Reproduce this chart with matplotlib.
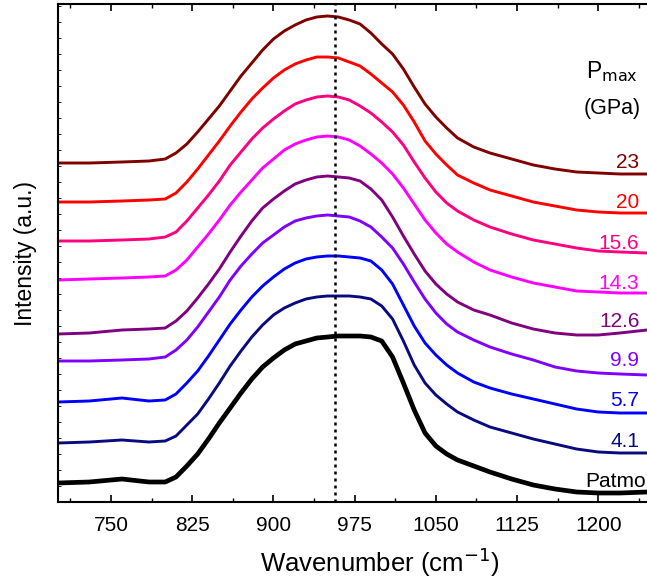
import numpy as np
import matplotlib
matplotlib.use('Agg')
import matplotlib.pyplot as plt
from matplotlib.ticker import MultipleLocator

plt.rcParams['font.family'] = ['Liberation Sans', 'DejaVu Sans']

# wavenumber grid (cm-1)
wn = [701, 730, 760, 785, 800, 810, 820, 830, 840, 850, 860, 870, 880, 890,
      900, 910, 920, 930, 940, 950, 960, 970, 980, 990, 1000, 1010, 1020,
      1030, 1040, 1050, 1060, 1070, 1085, 1100, 1120, 1140, 1160, 1180,
      1200, 1220, 1245]

# stacked spectra (a.u., vertical offset already included)
s_patmo = [19, 20, 23, 20, 20, 25, 36, 48, 63, 79, 94, 109, 123, 135,
           144, 152, 158, 161, 164, 165, 166, 166, 166, 165, 161, 145, 119,
           92, 69, 56, 48, 42, 36, 30, 23, 17, 13, 10,
           9, 9, 10]
s_41 = [59, 60, 62, 60, 61, 66, 77, 88, 103, 119, 136, 151, 165, 177,
        187, 194, 199, 203, 205, 206, 206, 206, 205, 203, 196, 183, 161,
        137, 119, 107, 98, 90, 82, 75, 69, 63, 58, 53,
        50, 49, 49]
s_57 = [100, 101, 104, 101, 102, 108, 119, 131, 146, 162, 178, 192, 205, 216,
        225, 233, 239, 243, 245, 246, 246, 245, 244, 241, 232, 218, 197,
        176, 159, 147, 137, 129, 120, 114, 108, 103, 98, 93,
        90, 89, 89]
s_99 = [141, 141, 142, 143, 145, 152, 162, 175, 190, 205, 222, 236, 248, 259,
        267, 275, 281, 284, 286, 287, 286, 285, 281, 275, 265, 254, 238,
        220, 203, 189, 178, 170, 162, 155, 148, 142, 135, 131,
        129, 128, 127]
s_126 = [168, 169, 172, 173, 174, 181, 191, 204, 218, 233, 250, 266, 281, 294,
         303, 311, 318, 322, 325, 326, 325, 324, 321, 313, 302, 285, 266,
         248, 231, 218, 208, 200, 192, 187, 179, 173, 169, 167,
         167, 169, 172]
s_143 = [222, 223, 224, 225, 226, 232, 242, 255, 268, 282, 297, 310, 322, 334,
         343, 352, 358, 362, 365, 366, 365, 362, 356, 348, 339, 328, 314,
         298, 282, 269, 258, 250, 240, 232, 225, 219, 215, 211,
         210, 209, 209]
s_156 = [261, 261, 262, 263, 265, 270, 281, 294, 307, 321, 337, 350, 363, 374,
         383, 391, 398, 402, 405, 406, 405, 402, 396, 389, 380, 370, 357,
         340, 324, 310, 299, 291, 282, 275, 268, 262, 258, 254,
         251, 250, 249]
s_20 = [300, 300, 301, 302, 303, 309, 320, 333, 347, 361, 376, 390, 403, 414,
        424, 432, 438, 442, 445, 445, 444, 440, 436, 428, 419, 410, 397,
        380, 361, 348, 337, 327, 319, 312, 306, 300, 296, 292,
        290, 289, 289]
s_23 = [339, 339, 340, 341, 343, 349, 358, 370, 383, 396, 411, 426, 439, 452,
        463, 471, 477, 482, 485, 486, 485, 482, 478, 469, 458, 448, 433,
        415, 398, 385, 374, 364, 355, 349, 343, 337, 333, 330,
        329, 328, 328]

labels = ['Patmo', '4.1', '5.7', '9.9', '12.6', '14.3', '15.6', '20', '23']
colors = ['black', '#0a0a80', '#0000ff', '#8000ff', '#800080',
          '#ff00ff', '#ff0080', '#ff0000', '#800000']
spectra = [s_patmo, s_41, s_57, s_99, s_126, s_143, s_156, s_20, s_23]
label_y = [15, 55, 96, 136, 175, 213, 253, 294, 334]

fig = plt.figure(figsize=(6.47, 5.85), dpi=100)
ax = fig.add_axes([58/647, 83/585, 1 - 58/647, 498/585])

for s, c, lab in zip(spectra, colors, labels):
    lw = 3.4 if lab == 'Patmo' else 2.1
    ax.plot(wn, s, color=c, lw=lw, solid_joinstyle='round')

ax.axvline(957, color='black', ls=(0, (1.2, 1.6)), lw=1.8)

for lab, c, y in zip(labels, colors, label_y):
    x = 1243.5 if lab == 'Patmo' else 1238
    ax.text(x, y, lab, color=c, fontsize=15, ha='right', va='baseline')

ax.text(1213, 430, r'P$_{\rm max}$', fontsize=16.5, ha='center', va='center')
ax.text(1213, 394, '(GPa)', fontsize=15.5, ha='center', va='center')

ax.set_xlim(701, 1245)
ax.set_ylim(0, 498)
ax.xaxis.set_major_locator(MultipleLocator(75))
ax.xaxis.set_minor_locator(MultipleLocator(37.5))
ax.yaxis.set_minor_locator(MultipleLocator(16))
ax.set_yticks([])
ax.tick_params(axis='x', which='major', direction='in', length=5, width=1.2,
               labelsize=15, pad=10, top=True)
ax.tick_params(axis='x', which='minor', direction='in', length=3, width=1.0, top=True)
ax.tick_params(axis='y', which='minor', direction='in', length=2, width=0.6)
ax.spines['right'].set_visible(False)
for sp in ['left', 'top', 'bottom']:
    ax.spines[sp].set_linewidth(1.5)

ax.set_xlabel('Wavenumber (cm$^{-1}$)', fontsize=18.5)
ax.xaxis.set_label_coords(0.547, -0.088)
ax.set_ylabel('Intensity (a.u.)', fontsize=16.5, labelpad=12)

fig.savefig('out.png', dpi=100)
